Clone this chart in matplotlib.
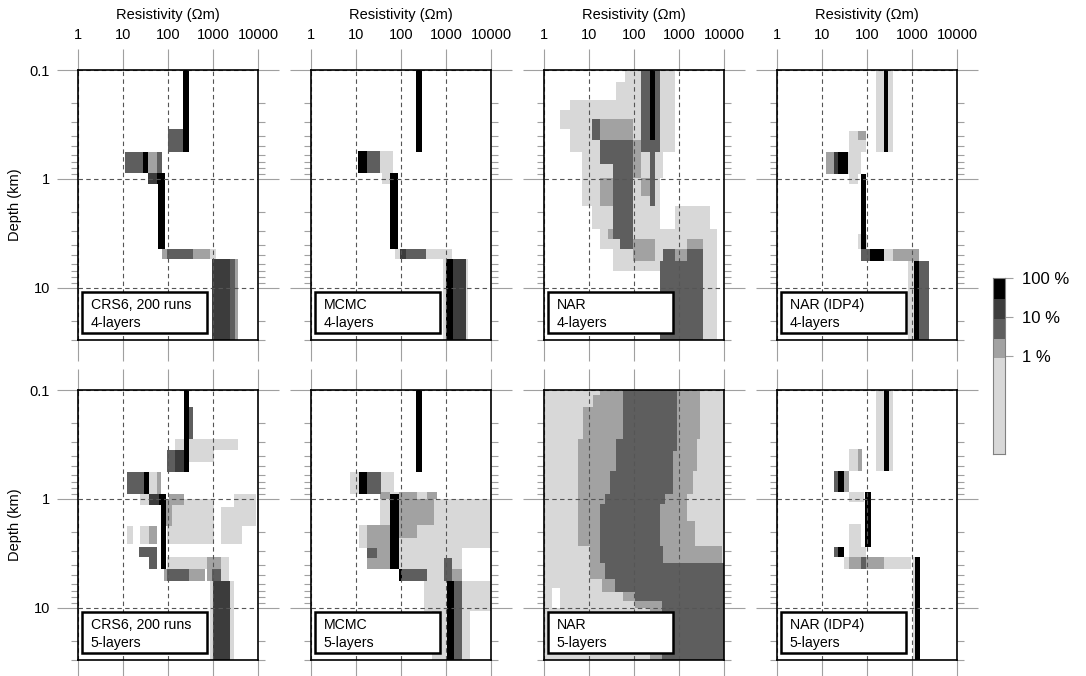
import matplotlib.pyplot as plt
from matplotlib.patches import Rectangle
from matplotlib.ticker import FixedLocator, FixedFormatter, LogLocator, NullFormatter

plt.rcParams['font.family'] = ['Liberation Sans', 'DejaVu Sans']

# probability classes: 0 none, 1 lightest ... 5 black
level_colors = ['#ffffff', '#d8d8d8', '#a2a2a2', '#5e5e5e', '#3c3c3c', '#000000']

# colorbar class bounds (%)
cbar_bounds = [0.003, 0.9, 2.7, 9, 29, 100]
cbar_ticks = [1, 10, 100]
cbar_labels = ['1 %', '10 %', '100 %']

res_ticks = [1, 10, 100, 1000, 10000]
res_labels = ['1', '10', '100', '1000', '10000']
depth_ticks = [0.1, 1, 10]
depth_labels = ['0.1', '1', '10']

# blocks: (class, depth top km, depth bottom km, resistivity low, resistivity high)
crs6_4 = [
    (5, 0.1, 0.57, 220, 290),
    (3, 0.35, 0.57, 100, 220),
    (3, 0.57, 0.89, 11, 28),
    (5, 0.57, 0.89, 28, 36),
    (2, 0.57, 0.89, 36, 56),
    (3, 0.57, 0.89, 56, 72),
    (4, 0.89, 1.12, 36, 56),
    (5, 0.89, 1.12, 56, 85),
    (5, 1.12, 4.4, 60, 85),
    (2, 4.4, 5.4, 75, 93),
    (3, 4.4, 5.4, 93, 365),
    (2, 4.4, 5.4, 365, 860),
    (1, 4.4, 5.4, 860, 1170),
    (4, 5.4, 30, 950, 2400),
    (3, 5.4, 30, 2400, 3100),
    (2, 5.4, 30, 3100, 3600),
]

mcmc_4 = [
    (5, 0.1, 0.57, 215, 287),
    (5, 0.55, 0.89, 11.3, 18),
    (3, 0.55, 0.89, 18, 34),
    (1, 0.55, 0.89, 34, 67),
    (1, 0.89, 1.11, 37, 57),
    (5, 0.89, 4.4, 57, 87),
    (1, 4.4, 5.4, 73, 94),
    (4, 4.4, 5.4, 94, 130),
    (3, 4.4, 5.4, 130, 360),
    (1, 4.4, 5.4, 360, 1330),
    (1, 5.4, 30, 860, 1000),
    (5, 5.4, 30, 1000, 1400),
    (4, 5.4, 30, 1400, 2750),
    (1, 5.4, 30, 2750, 3100),
]

nar_4 = [
    (1, 0.1, 0.128, 63, 813),
    (1, 0.128, 0.19, 40, 813),
    (1, 0.19, 0.234, 3.8, 813),
    (1, 0.234, 0.35, 2.3, 813),
    (1, 0.35, 0.57, 3.8, 813),
    (1, 0.57, 0.97, 6.9, 450),
    (1, 0.97, 1.76, 6.9, 380),
    (1, 1.76, 2.9, 11.5, 380),
    (1, 1.76, 2.9, 813, 4900),
    (1, 2.9, 4.43, 17.5, 6900),
    (1, 4.43, 7.0, 35, 6900),
    (1, 7.0, 30, 378, 6900),
    (2, 0.28, 0.44, 17.5, 97),
    (2, 0.44, 0.97, 97, 141),
    (2, 0.97, 1.76, 17.5, 35),
    (2, 0.97, 1.43, 141, 227),
    (2, 2.9, 3.58, 27, 35),
    (2, 3.58, 5.7, 97, 300),
    (2, 3.58, 4.43, 1480, 3460),
    (2, 4.43, 5.7, 813, 1480),
    (3, 0.1, 0.57, 141, 378),
    (3, 0.28, 0.44, 11.5, 17.5),
    (3, 0.44, 0.73, 17.5, 97),
    (3, 0.57, 1.76, 227, 293),
    (3, 0.73, 3.58, 35, 97),
    (3, 3.58, 4.43, 49, 97),
    (3, 4.43, 5.7, 450, 813),
    (3, 4.43, 5.7, 1480, 3460),
    (3, 5.7, 30, 378, 3460),
    (5, 0.1, 0.44, 227, 293),
]

idp4_4 = [
    (1, 0.1, 0.57, 158, 372),
    (5, 0.1, 0.57, 234, 298),
    (1, 0.36, 0.57, 39, 62),
    (2, 0.36, 0.44, 62, 95),
    (1, 0.44, 0.57, 62, 95),
    (2, 0.57, 0.9, 12.3, 18.8),
    (4, 0.57, 0.9, 18.8, 23),
    (5, 0.57, 0.9, 23, 37),
    (1, 0.57, 0.9, 37, 74),
    (1, 0.9, 1.11, 39, 62),
    (5, 0.9, 4.43, 74, 95),
    (1, 3.2, 4.43, 62, 100),
    (3, 4.43, 5.67, 74, 119),
    (5, 4.43, 5.67, 119, 243),
    (1, 4.43, 5.67, 243, 372),
    (2, 4.43, 5.67, 372, 1456),
    (1, 5.67, 30, 800, 1130),
    (5, 5.67, 30, 1130, 1456),
    (3, 5.67, 30, 1456, 2430),
]

crs6_5 = [
    (5, 0.1, 0.57, 224, 300),
    (3, 0.144, 0.28, 300, 363),
    (1, 0.28, 0.355, 146, 3560),
    (3, 0.355, 0.57, 95, 146),
    (4, 0.355, 0.57, 146, 224),
    (1, 0.355, 0.46, 300, 1045),
    (3, 0.57, 0.9, 12.2, 28.7),
    (5, 0.57, 0.9, 28.7, 37),
    (1, 0.57, 0.9, 37, 57),
    (2, 0.57, 0.9, 57, 71),
    (1, 0.9, 1.13, 24, 37),
    (4, 0.9, 1.13, 37, 62),
    (5, 0.9, 1.13, 62, 92),
    (2, 0.9, 1.13, 103, 224),
    (1, 0.9, 1.76, 2900, 8900),
    (1, 1.0, 2.59, 95, 1045),
    (2, 1.0, 1.76, 92, 123),
    (1, 1.19, 2.59, 1470, 4470),
    (1, 1.76, 2.59, 12.2, 17),
    (1, 1.76, 2.59, 24, 37),
    (2, 1.76, 2.59, 37, 57),
    (3, 2.78, 3.43, 23, 57),
    (3, 3.43, 4.39, 37, 57),
    (1, 3.43, 4.39, 95, 2250),
    (2, 3.43, 5.61, 741, 1470),
    (5, 1.13, 4.39, 71, 92),
    (2, 4.39, 5.61, 80, 95),
    (3, 4.39, 5.61, 95, 290),
    (2, 4.39, 5.61, 290, 680),
    (3, 4.39, 5.61, 960, 1470),
    (1, 4.39, 5.61, 1470, 2250),
    (1, 5.61, 30, 850, 990),
    (4, 5.61, 30, 990, 2370),
    (1, 5.61, 30, 2370, 2900),
]

mcmc_5 = [
    (5, 0.1, 0.57, 220, 295),
    (1, 0.57, 0.9, 7.4, 11.4),
    (5, 0.57, 0.9, 11.4, 18),
    (3, 0.57, 0.9, 18, 36),
    (1, 0.57, 0.9, 36, 69),
    (1, 0.87, 1.0, 35, 630),
    (2, 0.87, 1.0, 35, 58),
    (2, 0.87, 1.0, 89, 225),
    (2, 0.87, 1.0, 380, 630),
    (1, 1.0, 1.75, 35, 10000),
    (2, 1.0, 1.75, 89, 540),
    (1, 1.75, 2.8, 11.4, 10000),
    (2, 1.75, 2.3, 89, 225),
    (2, 1.75, 4.4, 18, 58),
    (1, 2.8, 4.4, 18, 2290),
    (3, 2.8, 3.5, 18, 29),
    (3, 3.5, 5.6, 900, 1370),
    (1, 4.4, 5.6, 89, 2290),
    (2, 4.4, 5.6, 1370, 2290),
    (3, 4.4, 5.6, 89, 380),
    (5, 4.4, 5.6, 89, 105),
    (1, 5.6, 10.6, 320, 10000),
    (1, 10.6, 30, 490, 3500),
    (5, 5.6, 30, 1060, 1490),
    (3, 5.6, 30, 1490, 2290),
    (5, 0.9, 4.4, 58, 89),
]

# NAR 5-layers: one row per depth interval
nar5_depth = [0.1, 0.111, 0.143, 0.28, 0.36, 0.55, 0.9, 1.12, 1.6, 2.7, 3.9, 5.4, 7.2, 8.6, 10, 30]
nar5_mid_lo = [17.5, 12.5, 7.5, 5.8, 5.8, 5.8, 5.8, 5.8, 5.8, 10.5, 10.5, 19, 58, 105, 228]
nar5_mid_hi = [2940, 2940, 2940, 2470, 2470, 2080, 1480, 1480, 2270, 8900, 10000, 10000, 10000, 10000, 10000]
nar5_dark_lo = [56, 56, 56, 40, 40, 29, 23, 17.5, 17.5, 17.5, 23, 38, 105, 410, 410]
nar5_dark_hi = [890, 890, 890, 890, 750, 750, 490, 377, 377, 450, 10000, 10000, 10000, 10000, 10000]
nar5_light = [
    (1, 0.1, 6.6, 1, 10000),
    (1, 6.6, 10, 1, 1.5),
    (1, 6.6, 10, 2.3, 10000),
    (1, 10, 30, 1, 10000),
]

idp4_5 = [
    (1, 0.1, 0.55, 158, 372),
    (5, 0.1, 0.55, 234, 302),
    (1, 0.347, 0.55, 39, 62),
    (2, 0.347, 0.55, 62, 76),
    (3, 0.55, 0.87, 18.8, 23),
    (5, 0.55, 0.87, 23, 31),
    (2, 0.55, 0.87, 31, 39),
    (1, 0.87, 1.07, 39, 87),
    (5, 0.87, 2.78, 92, 123),
    (1, 1.7, 2.78, 39, 73),
    (3, 2.78, 3.44, 18.8, 23),
    (5, 2.78, 3.44, 23, 31),
    (1, 2.78, 3.44, 39, 95),
    (1, 3.44, 4.35, 31, 39),
    (2, 3.44, 4.35, 39, 74),
    (3, 3.44, 4.35, 74, 95),
    (2, 3.44, 4.35, 95, 243),
    (1, 3.44, 4.35, 243, 950),
    (1, 3.44, 30, 1040, 1170),
    (5, 3.44, 30, 1170, 1520),
]

nar_5 = list(nar5_light)
for i in range(len(nar5_mid_lo)):
    nar_5.append((2, nar5_depth[i], nar5_depth[i + 1], nar5_mid_lo[i], nar5_mid_hi[i]))
    nar_5.append((3, nar5_depth[i], nar5_depth[i + 1], nar5_dark_lo[i], nar5_dark_hi[i]))

panels = [
    [(crs6_4, 'CRS6, 200 runs\n4-layers'), (mcmc_4, 'MCMC\n4-layers'),
     (nar_4, 'NAR\n4-layers'), (idp4_4, 'NAR (IDP4)\n4-layers')],
    [(crs6_5, 'CRS6, 200 runs\n5-layers'), (mcmc_5, 'MCMC\n5-layers'),
     (nar_5, 'NAR\n5-layers'), (idp4_5, 'NAR (IDP4)\n5-layers')],
]

W, H = 1086, 676
fig = plt.figure(figsize=(W / 100, H / 100), dpi=100)

col_left = [78, 311, 544, 777]
row_top = [70, 390]
pw, ph = 180, 270
tick_col = '#a0a0a0'

for r in range(2):
    for c in range(4):
        blocks, name = panels[r][c]
        ax = fig.add_axes([col_left[c] / W, 1 - (row_top[r] + ph) / H, pw / W, ph / H])
        ax.set_xscale('log')
        ax.set_yscale('log')
        for lev, z0, z1, r0, r1 in sorted(blocks, key=lambda b: b[0]):
            ax.broken_barh([(r0, r1 - r0)], (z0, z1 - z0), facecolors=level_colors[lev],
                           linewidth=0, antialiased=False)
        ax.set_xlim(1, 10000)
        ax.set_ylim(30, 0.1)

        ax.xaxis.set_major_locator(FixedLocator(res_ticks))
        ax.xaxis.set_major_formatter(FixedFormatter(res_labels))
        ax.xaxis.set_minor_locator(LogLocator(base=10, subs=range(2, 10)))
        ax.xaxis.set_minor_formatter(NullFormatter())
        ax.yaxis.set_major_locator(FixedLocator(depth_ticks))
        ax.yaxis.set_major_formatter(FixedFormatter(depth_labels))
        ax.yaxis.set_minor_locator(LogLocator(base=10, subs=range(2, 10)))
        ax.yaxis.set_minor_formatter(NullFormatter())

        ax.tick_params(which='both', direction='out', top=True, bottom=True, left=True,
                       right=True, color=tick_col, width=0.8,
                       labeltop=(r == 0), labelbottom=False, labelleft=(c == 0),
                       labelright=False, labelsize=10.5)
        ax.tick_params(which='major', length=15, pad=5)
        ax.tick_params(which='minor', length=5)

        ax.set_axisbelow(False)
        ax.grid(True, which='major', linestyle=(0, (4, 3)), color='#555555', linewidth=0.8)
        for s in ax.spines.values():
            s.set_color('black')
            s.set_linewidth(1.2)
            s.set_zorder(6)

        if r == 0:
            ax.xaxis.set_label_position('top')
            ax.set_xlabel('Resistivity (\u03a9m)', fontsize=10.5, labelpad=7)
        if c == 0:
            ax.set_ylabel('Depth (km)', fontsize=10.5, labelpad=6)

        ax.add_patch(Rectangle((0.022, 0.026), 0.695, 0.152, transform=ax.transAxes,
                               facecolor='white', edgecolor='black', linewidth=1.8, zorder=7))
        ax.text(0.07, 0.096, name, transform=ax.transAxes, fontsize=10.2,
                va='center', ha='left', linespacing=1.3, zorder=8)

# colorbar
cax = fig.add_axes([993 / W, 1 - 454 / H, 12 / W, 176 / H])
cax.set_yscale('log')
for i in range(len(cbar_bounds) - 1):
    lo, hi = cbar_bounds[i], cbar_bounds[i + 1]
    cax.bar(0.5, hi - lo, bottom=lo, width=1, color=level_colors[i + 1], linewidth=0)
cax.set_xlim(0, 1)
cax.set_ylim(cbar_bounds[0], cbar_bounds[-1])
cax.set_xticks([])
cax.yaxis.set_major_locator(FixedLocator(cbar_ticks))
cax.yaxis.set_major_formatter(FixedFormatter(cbar_labels))
cax.yaxis.set_minor_locator(FixedLocator([]))
cax.yaxis.tick_right()
cax.tick_params(axis='y', length=6, color=tick_col, labelsize=12, pad=6)
for s in cax.spines.values():
    s.set_color('#808080')
    s.set_linewidth(0.8)

fig.savefig('out.png', dpi=100)
